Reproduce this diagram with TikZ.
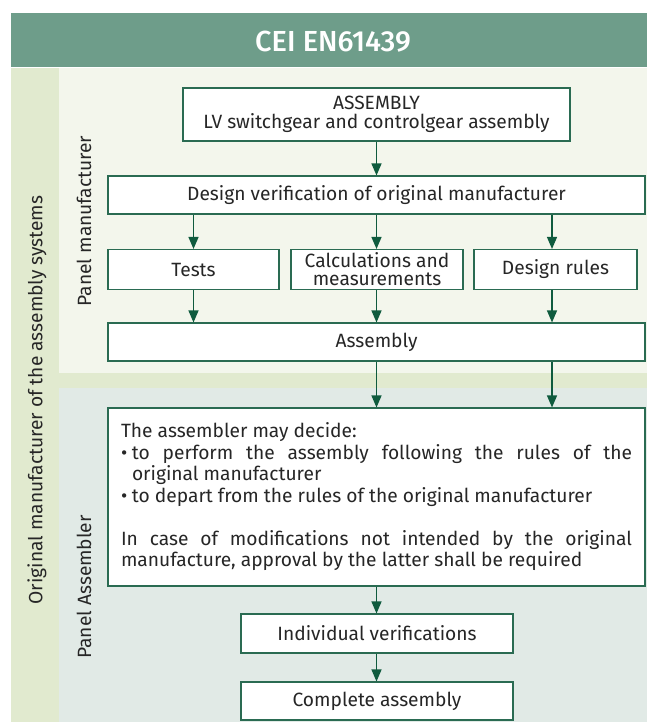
\documentclass[tikz,border=0pt]{standalone}
\usepackage{fontspec}
\setmainfont{Fira Sans}
\newfontfamily\headfont{Fira Sans Medium}
\usetikzlibrary{arrows.meta}
\definecolor{hdr}{HTML}{6E9D8A}
\definecolor{strip}{HTML}{E1EACF}
\definecolor{topreg}{HTML}{F3F6EC}
\definecolor{botreg}{HTML}{E1EAE6}
\definecolor{dgreen}{HTML}{0F5B3E}
\definecolor{bordr}{HTML}{2A6B52}
\tikzset{
  box/.style={draw=bordr, line width=1.1pt, fill=white, inner sep=0pt, align=center,
    font=\fontsize{19.2}{19}\selectfont, text=black!85},
  arr/.style={draw=dgreen, line width=1.3pt, -{Triangle[length=12pt,width=10pt]}},
  side/.style={rotate=90, font=\fontsize{19.2}{20}\selectfont, text=black!85}
}
\begin{document}
\begin{tikzpicture}[x=1pt,y=-1pt]
\useasboundingbox (0,0) rectangle (647,722);
\fill[white] (0,0) rectangle (647,722);
\fill[hdr] (11,13) rectangle (647,67);
\fill[strip] (11,68) rectangle (59,722);
\fill[topreg] (59,68) rectangle (647,373);
\fill[strip] (59,373) rectangle (647,388);
\fill[botreg] (59,388) rectangle (647,722);
\node[text=white, font=\headfont\fontsize{29}{29}\selectfont] (title) at (333,42) {CEI EN61439};
\node[side] (orig) at (37,400) {Original manufacturer of the assembly systems};
\node[side] (pm) at (84,221) {Panel manufacturer};
\node[side] (pa) at (84,587) {Panel Assembler};
\node[box, minimum width=387pt, minimum height=53pt] (asm0) at (376.5,114.5) {ASSEMBLY\\LV switchgear and controlgear assembly};
\node[box, minimum width=537pt, minimum height=38pt] (dv) at (376.5,195) {Design verification of original manufacturer};
\node[box, minimum width=171pt, minimum height=40pt] (tests) at (193.5,269.5) {Tests};
\node[box, minimum width=172pt, minimum height=40pt, font=\fontsize{19.2}{18}\selectfont] (calc) at (377,269.5) {Calculations and\\measurements};
\node[box, minimum width=163pt, minimum height=40pt] (rules) at (555.5,269.5) {Design rules};
\node[box, minimum width=537pt, minimum height=38pt] (asm) at (376.5,342) {Assembly};
\node[box, minimum width=537pt, minimum height=178pt, align=left] (txt) at (376.5,497) {%
\parbox{511pt}{\fontsize{19.2}{21.5}\selectfont\setlength{\parindent}{0pt}%
The assembler may decide:\par
\hangindent=11pt\hangafter=1\makebox[11pt][l]{•}to perform the assembly following the rules of the\linebreak original manufacturer\par
\makebox[11pt][l]{•}to depart from the rules of the original manufacturer\par
\vspace{21.5pt}
In case of modifications not intended by the original\linebreak manufacture, approval by the latter shall be required\par}};
\node[box, minimum width=272pt, minimum height=39pt] (ind) at (377,633.5) {Individual verifications};
\node[box, minimum width=272pt, minimum height=38pt] (comp) at (377,701) {Complete assembly};
\coordinate (xc) at (376.5,0);
\coordinate (xr) at (552,0);
\coordinate (xl) at (193.5,0);
\draw[arr] (asm0.south -| xc) -- (dv.north -| xc);
\draw[arr] (dv.south -| xl) -- (tests.north -| xl);
\draw[arr] (dv.south -| xc) -- (calc.north -| xc);
\draw[arr] (dv.south -| xr) -- (rules.north -| xr);
\draw[arr] (tests.south -| xl) -- (asm.north -| xl);
\draw[arr] (calc.south -| xc) -- (asm.north -| xc);
\draw[arr] (rules.south -| xr) -- (asm.north -| xr);
\draw[arr] (asm.south -| xc) -- (txt.north -| xc);
\draw[arr] (asm.south -| xr) -- (txt.north -| xr);
\draw[arr] (txt.south -| xc) -- (ind.north -| xc);
\draw[arr] (ind.south -| xc) -- (comp.north -| xc);
\end{tikzpicture}
\end{document}
